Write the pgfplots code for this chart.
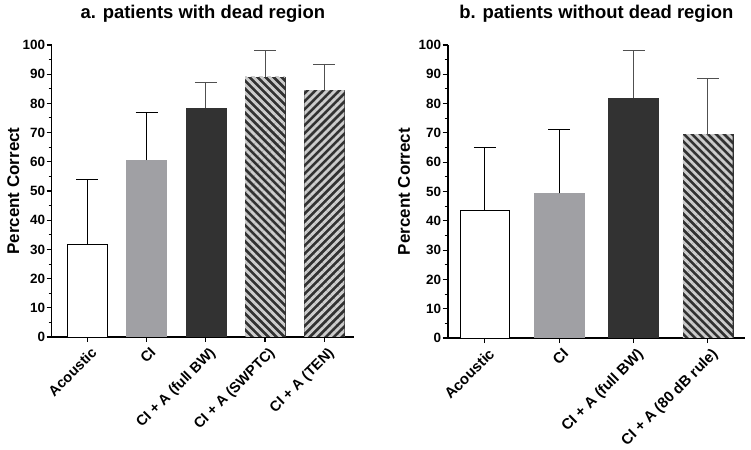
\documentclass[border=0pt]{standalone}
\usepackage{pgfplots}
\pgfplotsset{compat=1.18}
\usetikzlibrary{patterns.meta}
\usepackage{fontspec}
\setmainfont{Liberation Sans}
\definecolor{cigrey}{RGB}{160,160,164}
\definecolor{darkbar}{RGB}{50,50,50}
\definecolor{stripe}{RGB}{205,205,205}
\definecolor{errgrey}{RGB}{80,80,80}
\pgfplotsset{
  mybase/.style={
    scale only axis, ybar,
    ymin=0, ymax=100, ytick={0,10,...,100}, minor y tick num=1,
    axis lines=left, axis line style={-, line width=1.6pt},
    tick align=outside, major tick length=5bp, minor tick length=3bp,
    major tick style={line width=1.2pt, black},
    minor tick style={line width=1pt, black},
    /pgf/number format/assume math mode=true,
    yticklabel style={font=\bfseries\fontsize{13.5}{13.5}\selectfont, inner sep=1.5pt},
    xticklabel style={rotate=45, anchor=north east, inner sep=1pt, yshift=-4bp},
    title style={at={(0.5,1)}, anchor=base, yshift=20.5bp, font=\bfseries\fontsize{18.5}{18.5}\selectfont},
    ylabel={Percent Correct},
    every axis plot/.append style={bar shift=0pt},
  },
  errb/.style={error bars/.cd, y dir=plus, y explicit,
    error bar style={line width=0.9pt, #1},
    error mark options={line width=0.9pt, mark size=11bp, rotate=90, #1}},
  hatch/.style={fill=none, draw=none, pattern={Lines[angle=#1,distance=5.7pt,line width=2.8pt]}, pattern color=stripe, forget plot},
}
\begin{document}
\begin{tikzpicture}
\useasboundingbox (0,0) rectangle (751bp,450bp);
% Panel a
\begin{axis}[mybase,
  at={(51.7bp,113bp)}, anchor=south west,
  width=302.3bp, height=292bp,
  xmin=-0.6, xmax=4.5, bar width=0.675,
  xtick={0,1,2,3,4},
  xticklabels={Acoustic, CI, CI + A (full BW), CI + A (SWPTC), CI + A (TEN)},
  xticklabel style={font=\bfseries\fontsize{14.5}{14.5}\selectfont},
  title={a. patients with dead region},
  ylabel style={at={(axis description cs:0,0.5)}, anchor=center, yshift=38.3bp, font=\bfseries\fontsize{17}{17}\selectfont},
]
\addplot[fill=white, draw=black, line width=0.8pt, errb=black] coordinates {(0,31.7) +- (0,22.3)};
\addplot[fill=cigrey, draw=cigrey, errb=black] coordinates {(1,60.6) +- (0,16.3)};
\addplot[fill=darkbar, draw=darkbar, errb=errgrey] coordinates {(2,78.4) +- (0,8.7)};
\addplot[fill=darkbar, draw=darkbar, errb=errgrey] coordinates {(3,89.1) +- (0,8.9)};
\addplot[hatch=-45] coordinates {(3,89.1)};
\addplot[fill=darkbar, draw=darkbar, errb=errgrey] coordinates {(4,84.5) +- (0,9.0)};
\addplot[hatch=45] coordinates {(4,84.5)};
\end{axis}
% Panel b
\begin{axis}[mybase,
  at={(447.7bp,112bp)}, anchor=south west,
  width=297.3bp, height=293bp,
  xmin=-0.5, xmax=3.5, bar width=0.67,
  xtick={0,1,2,3},
  xticklabels={Acoustic, CI, CI + A (full BW), CI + A (80 dB rule)},
  xticklabel style={font=\bfseries\fontsize{15}{15}\selectfont},
  title={b. patients without dead region},
  ylabel style={at={(axis description cs:0,0.5)}, anchor=center, yshift=43.7bp, font=\bfseries\fontsize{17}{17}\selectfont},
]
\addplot[fill=white, draw=black, line width=0.8pt, errb=black] coordinates {(0,43.7) +- (0,21.3)};
\addplot[fill=cigrey, draw=cigrey, errb=black] coordinates {(1,49.4) +- (0,21.8)};
\addplot[fill=darkbar, draw=darkbar, errb=errgrey] coordinates {(2,82.0) +- (0,16.0)};
\addplot[fill=darkbar, draw=darkbar, errb=errgrey] coordinates {(3,69.4) +- (0,19.2)};
\addplot[hatch=-45] coordinates {(3,69.4)};
\end{axis}
\end{tikzpicture}
\end{document}
